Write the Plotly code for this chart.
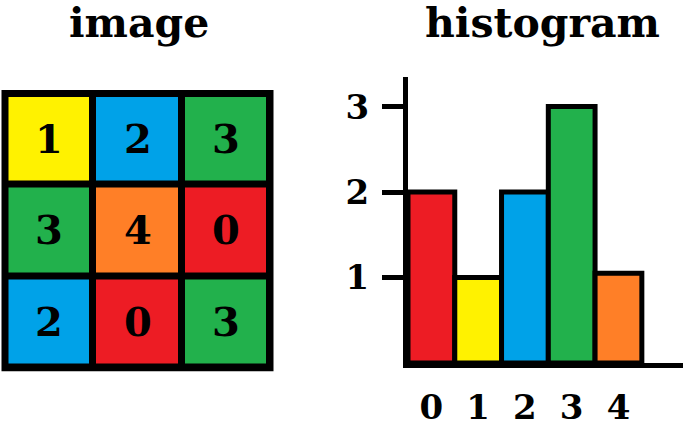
import plotly.graph_objects as go

# ---- data ----
image_values = [[1, 2, 3],
                [3, 4, 0],
                [2, 0, 3]]
image_cols = [0, 1, 2]
image_rows = [0, 1, 2]
bin_labels = [0, 1, 2, 3, 4]
counts = [2, 1, 2, 3, 1.05]
palette = ["#ED1C24", "#FFF200", "#00A2E8", "#22B14C", "#FF7F27"]
y_ticks = [1, 2, 3]

FONT = "DejaVu Serif"
W, H = 685, 427

n = len(palette)
colorscale = []
for i, c in enumerate(palette):
    colorscale.append([i / n, c])
    colorscale.append([(i + 1) / n, c])

fig = go.Figure()

fig.add_trace(go.Heatmap(
    z=image_values, x=image_cols, y=image_rows,
    colorscale=colorscale, zmin=-0.5, zmax=n - 0.5, showscale=False,
    xgap=7, ygap=7,
    texttemplate="%{z}",
    textfont=dict(family=FONT, size=40, color="black", weight="bold"),
    hoverinfo="skip",
    xaxis="x", yaxis="y",
))

fig.add_trace(go.Bar(
    x=bin_labels, y=counts, width=1,
    marker=dict(color=palette, line=dict(color="black", width=5)),
    xaxis="x2", yaxis="y2", hoverinfo="skip",
))

# black backdrop and border for the image grid
fig.add_shape(type="rect", xref="x domain", yref="y domain", x0=0, x1=1, y0=0, y1=1,
              fillcolor="black", line=dict(color="black", width=0), layer="below")
fig.add_shape(type="rect", xref="x domain", yref="y domain", x0=0, x1=1, y0=0, y1=1,
              line=dict(color="black", width=7), layer="above")

fig.update_layout(
    width=W, height=H,
    margin=dict(l=0, r=0, t=0, b=0),
    paper_bgcolor="white", plot_bgcolor="white",
    showlegend=False,
    xaxis=dict(domain=[5 / W, 270 / W], range=[-0.5, 2.5], visible=False),
    yaxis=dict(domain=[1 - 374 / H, 1 - 95 / H], range=[2.5, -0.5], visible=False),
    xaxis2=dict(domain=[408 / W, 683 / W], range=[-0.5, 5.38], anchor="y2",
                showline=True, linewidth=5, linecolor="black",
                ticks="", tickvals=bin_labels, showgrid=False, zeroline=False,
                ticklabelstandoff=10,
                tickfont=dict(family=FONT, size=34, color="black", weight="bold")),
    yaxis2=dict(domain=[1 - 369 / H, 1 - 78 / H], range=[0, 3.35], anchor="x2",
                showline=True, linewidth=5, linecolor="black",
                ticks="outside", ticklen=21, tickwidth=5, tickcolor="black",
                tickvals=y_ticks, showgrid=False, zeroline=False,
                ticklabelstandoff=6,
                tickfont=dict(family=FONT, size=34, color="black", weight="bold")),
    annotations=[
        dict(text="image", x=139 / W, y=1 - 23 / H, xref="paper", yref="paper",
             showarrow=False, xanchor="center", yanchor="middle",
             font=dict(family=FONT, size=41, color="black", weight="bold")),
        dict(text="histogram", x=542 / W, y=1 - 23 / H, xref="paper", yref="paper",
             showarrow=False, xanchor="center", yanchor="middle",
             font=dict(family=FONT, size=41, color="black", weight="bold")),
    ],
)

fig.write_html("out.html", config={"displayModeBar": False},
               post_script="document.body.style.margin='0';")
